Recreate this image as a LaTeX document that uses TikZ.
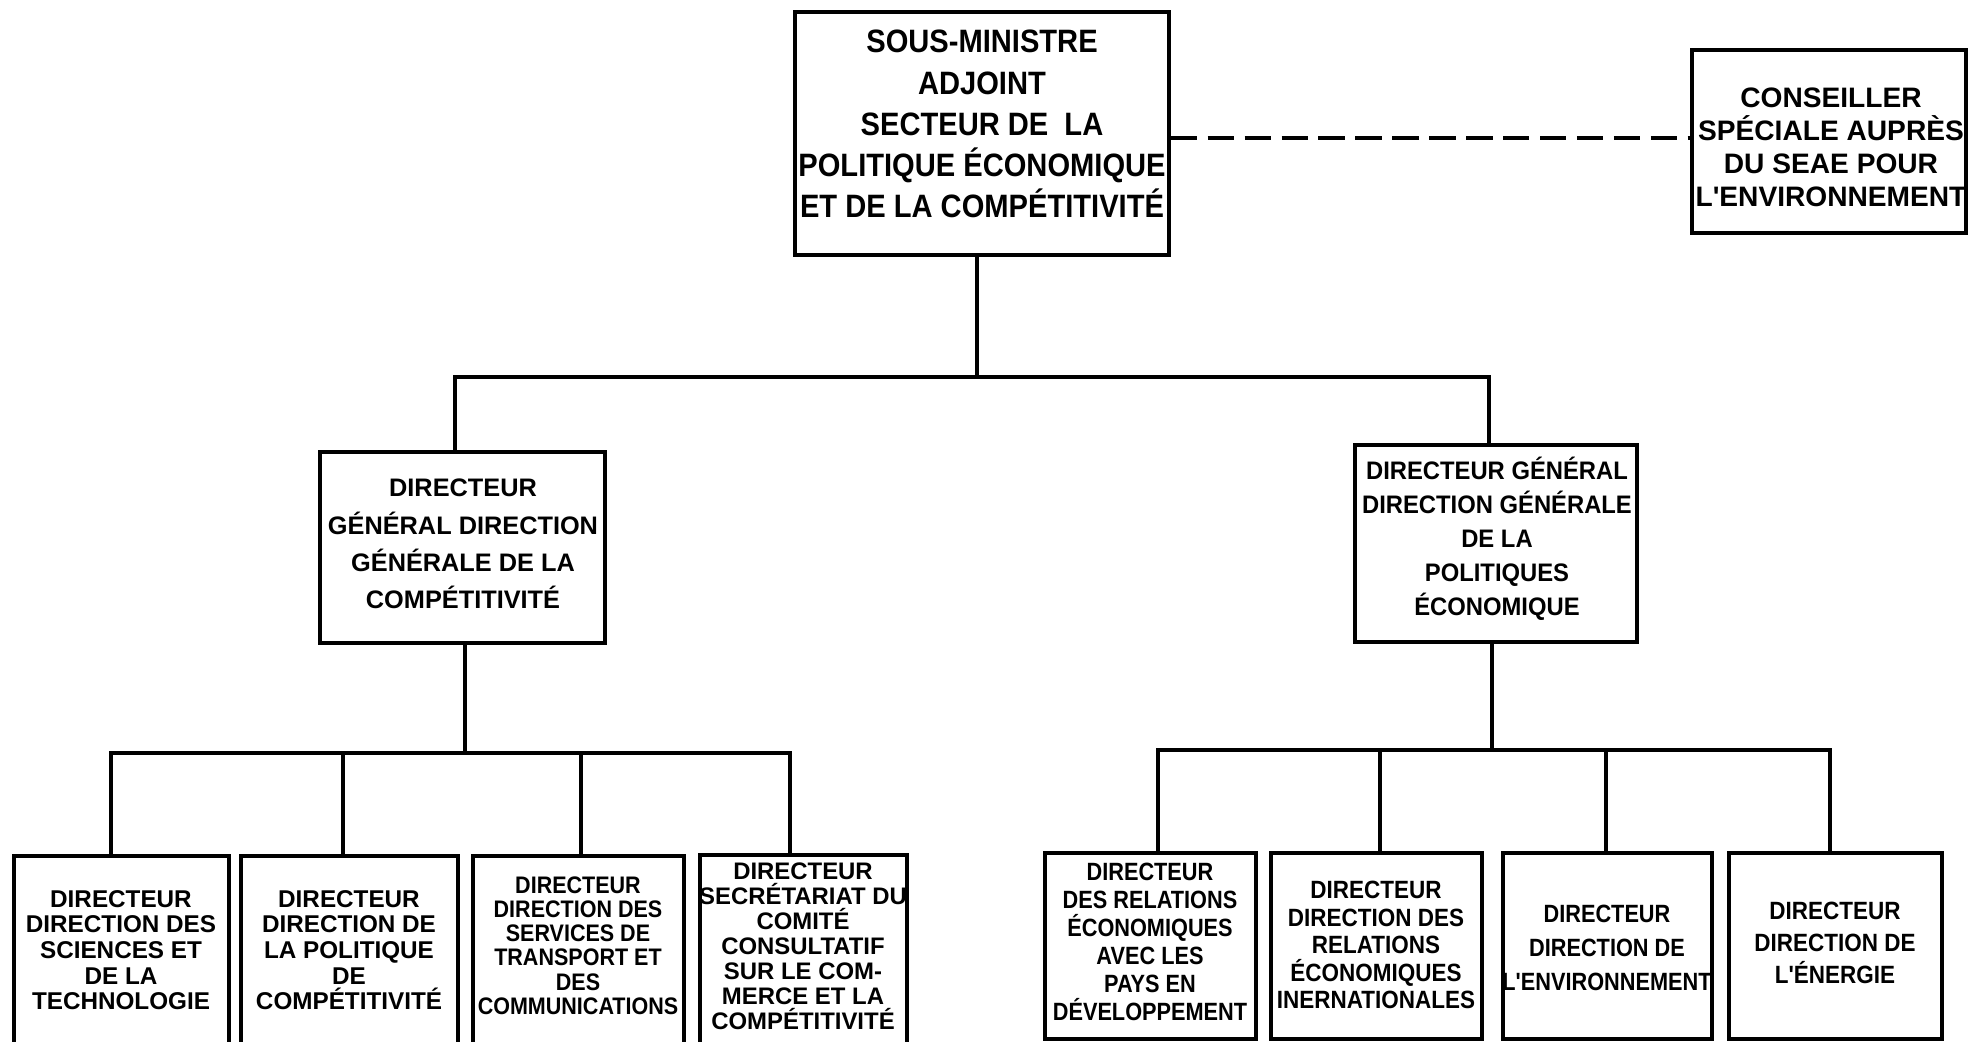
\documentclass[tikz,border=0pt]{standalone}
\usepackage{fontspec}
\usetikzlibrary{fit}
\newfontfamily\fN{Liberation Sans Bold}
\newfontfamily\fA{Liberation Sans Bold}[FakeStretch=0.94]
\newfontfamily\fB{Liberation Sans Bold}[FakeStretch=0.9]
\newfontfamily\fC{Liberation Sans Bold}[FakeStretch=0.87]
\begin{document}
\begin{tikzpicture}[x=0.01cm,y=-0.01cm,
  bx/.style={draw, line width=1pt, inner sep=0pt},
  ln/.style={line width=1pt},
  lbl/.style={align=center, inner sep=0pt}]
\clip (0,0) rectangle (1969,1041);
\fill[white] (0,0) rectangle (1969,1041);
% boxes
\node[bx, fit={(795,12) (1169,255)}] (top) {};
\node[bx, fit={(1692,50) (1966,233)}] (adv) {};
\node[bx, fit={(320,452) (605,643)}] (gl) {};
\node[bx, fit={(1355,445) (1637,642)}] (gr) {};
\node[bx, fit={(14,856) (229,1100)}] (b1) {};
\node[bx, fit={(241,856) (458,1100)}] (b2) {};
\node[bx, fit={(473,856) (684,1100)}] (b3) {};
\node[bx, fit={(700,855) (907,1100)}] (b4) {};
\node[bx, fit={(1045,853) (1256,1039)}] (b5) {};
\node[bx, fit={(1271,853) (1482,1039)}] (b6) {};
\node[bx, fit={(1503,853) (1712,1039)}] (b7) {};
\node[bx, fit={(1729,853) (1942,1039)}] (b8) {};
% texts
\node[lbl, font=\fB\fontsize{9.2}{11.7}\selectfont] at (982,124) {SOUS-MINISTRE\\ADJOINT\\SECTEUR DE~ LA\\POLITIQUE ÉCONOMIQUE\\ET DE LA COMPÉTITIVITÉ};
\node[lbl, font=\fN\fontsize{8}{9.4}\selectfont] at (1831,147) {CONSEILLER\\SPÉCIALE AUPRÈS\\DU SEAE POUR\\L'ENVIRONNEMENT};
\node[lbl, font=\fN\fontsize{7.2}{10.6}\selectfont] at (463,544) {DIRECTEUR\\GÉNÉRAL DIRECTION\\GÉNÉRALE DE LA\\COMPÉTITIVITÉ};
\node[lbl, font=\fA\fontsize{7.2}{9.7}\selectfont] at (1497,539) {DIRECTEUR GÉNÉRAL\\DIRECTION GÉNÉRALE\\DE LA\\POLITIQUES\\ÉCONOMIQUE};
\node[lbl, font=\fN\fontsize{6.9}{7.3}\selectfont] at (121,950) {DIRECTEUR\\DIRECTION DES\\SCIENCES ET\\DE LA\\TECHNOLOGIE};
\node[lbl, font=\fN\fontsize{6.9}{7.3}\selectfont] at (349,950) {DIRECTEUR\\DIRECTION DE\\LA POLITIQUE\\DE\\COMPÉTITIVITÉ};
\node[lbl, font=\fB\fontsize{6.8}{6.9}\selectfont] at (578,945.5) {DIRECTEUR\\DIRECTION DES\\SERVICES DE\\TRANSPORT ET\\DES\\COMMUNICATIONS};
\node[lbl, font=\fN\fontsize{6.8}{7.1}\selectfont] at (803,946) {DIRECTEUR\\SECRÉTARIAT DU\\COMITÉ\\CONSULTATIF\\SUR LE COM-\\MERCE ET LA\\COMPÉTITIVITÉ};
\node[lbl, font=\fC\fontsize{7.1}{8}\selectfont] at (1150,942) {DIRECTEUR\\DES RELATIONS\\ÉCONOMIQUES\\AVEC LES\\PAYS EN\\DÉVELOPPEMENT};
\node[lbl, font=\fB\fontsize{7.1}{7.8}\selectfont] at (1376,945) {DIRECTEUR\\DIRECTION DES\\RELATIONS\\ÉCONOMIQUES\\INERNATIONALES};
\node[lbl, font=\fC\fontsize{7.1}{9.7}\selectfont] at (1607,948) {DIRECTEUR\\DIRECTION DE\\L'ENVIRONNEMENT};
\node[lbl, font=\fB\fontsize{7.1}{9}\selectfont] at (1835,943) {DIRECTEUR\\DIRECTION DE\\L'ÉNERGIE};
% connectors
\coordinate (t1) at (977,377);
\coordinate (jl) at (455,377);
\coordinate (jr) at (1489,377);
\draw[ln] (top.south -| t1) -- (t1);
\draw[ln] (jl |- gl.north) -- (jl) -- (jr) -- (jr |- gr.north);
\coordinate (dy) at (0,138);
\draw[ln, dash pattern=on 7.5pt off 3pt] (top.east |- dy) -- (adv.west |- dy);
% left group
\coordinate (kl) at (465,753);
\coordinate (s1) at (111,753);
\coordinate (s2) at (343,753);
\coordinate (s3) at (581,753);
\coordinate (s4) at (790,753);
\draw[ln] (gl.south -| kl) -- (kl);
\draw[ln] (s1 |- b1.north) -- (s1) -- (s4) -- (s4 |- b4.north);
\draw[ln] (s2) -- (s2 |- b2.north);
\draw[ln] (s3) -- (s3 |- b3.north);
% right group
\coordinate (kr) at (1492,750);
\coordinate (s5) at (1158,750);
\coordinate (s6) at (1380,750);
\coordinate (s7) at (1606,750);
\coordinate (s8) at (1830,750);
\draw[ln] (gr.south -| kr) -- (kr);
\draw[ln] (s5 |- b5.north) -- (s5) -- (s8) -- (s8 |- b8.north);
\draw[ln] (s6) -- (s6 |- b6.north);
\draw[ln] (s7) -- (s7 |- b7.north);
\end{tikzpicture}
\end{document}
